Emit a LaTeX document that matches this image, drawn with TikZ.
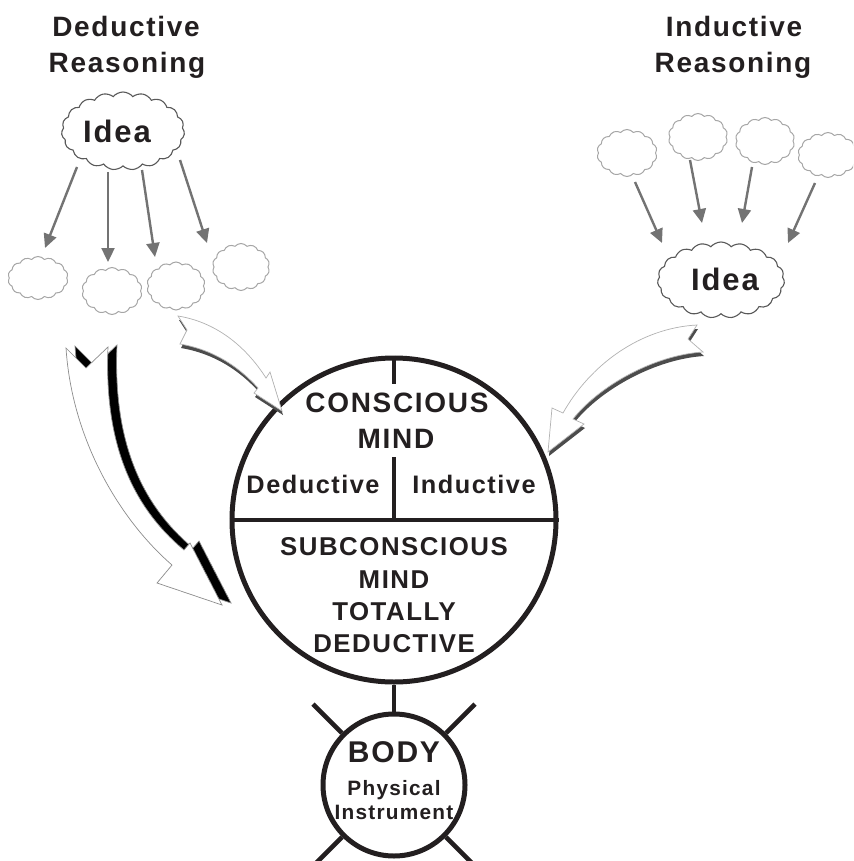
\documentclass[tikz,border=0pt]{standalone}
\usepackage{fontspec}
\setmainfont{Liberation Sans}
\newfontfamily\trk[LetterSpace=6]{Liberation Sans}
\usetikzlibrary{shapes.symbols,arrows.meta}
\definecolor{ink}{HTML}{231F20}
\begin{document}
\begin{tikzpicture}[x=1pt,y=-1pt,
  lbl/.style={anchor=base, inner sep=0pt, text=ink, font=\trk\bfseries},
  bigcloud/.style={cloud, cloud puffs=19, cloud puff arc=100, cloud ignores aspect,
     draw=black!65, line width=1.1pt, inner sep=0pt, fill=white},
  smallcloud/.style={cloud, cloud puffs=14, cloud puff arc=100, cloud ignores aspect,
     draw=black!35, line width=1pt, inner sep=0pt},
  garrow/.style={draw=black!55, line width=2.4pt, -{Triangle[length=14pt,width=13pt]}},
  thick line/.style={draw=ink, line width=4.6pt},
  blockshadow/.style={fill=black!70},
  blockbody/.style={fill=white, draw=black!30, line width=0.7pt}]
\useasboundingbox (0,0) rectangle (853,861);
\clip (0,0) rectangle (853,861);

% titles
\node[lbl, font=\trk\bfseries\fontsize{28}{32}\selectfont] (tdl1) at (126,37) {Deductive};
\node[lbl, font=\trk\bfseries\fontsize{28}{32}\selectfont] (tdl2) at (127,73) {Reasoning};
\node[lbl, font=\trk\bfseries\fontsize{28}{32}\selectfont] (tdr1) at (734,37) {Inductive};
\node[lbl, font=\trk\bfseries\fontsize{28}{32}\selectfont] (tdr2) at (733,73) {Reasoning};

% clouds left
\node[bigcloud, minimum width=123pt, minimum height=78pt] (iL) at (123,131) {};
\node[smallcloud, minimum width=60pt, minimum height=43pt] (c1) at (38,278) {};
\node[smallcloud, minimum width=60pt, minimum height=47pt] (c2) at (112,291) {};
\node[smallcloud, minimum width=58pt, minimum height=48pt] (c3) at (176,286) {};
\node[smallcloud, minimum width=57pt, minimum height=47pt] (c4) at (241,267) {};
\node[lbl, font=\trk\bfseries\fontsize{31}{34}\selectfont] (tiL) at (117,143) {Idea};

% clouds right
\node[smallcloud, minimum width=60pt, minimum height=47pt] (r1) at (627,153) {};
\node[smallcloud, minimum width=59pt, minimum height=47pt] (r2) at (698,137) {};
\node[smallcloud, minimum width=59pt, minimum height=47pt] (r3) at (765,141) {};
\node[smallcloud, minimum width=60pt, minimum height=45pt] (r4) at (828,155) {};
\node[bigcloud, minimum width=127pt, minimum height=76pt] (iR) at (721,280) {};
\node[lbl, font=\trk\bfseries\fontsize{31}{34}\selectfont] (tiR) at (725,290) {Idea};

% gray arrows
\draw[garrow] ([shift={(-46,36)}]iL.center) -- ([shift={(7,-30)}]c1.center);
\draw[garrow] ([shift={(-15,41)}]iL.center) -- ([shift={(-4,-29)}]c2.center);
\draw[garrow] ([shift={(19,39)}]iL.center) -- ([shift={(-21,-29)}]c3.center);
\draw[garrow] ([shift={(57,29)}]iL.center) -- ([shift={(-34,-24)}]c4.center);
\draw[garrow] ([shift={(8,29)}]r1.center) -- ([shift={(-59,-37)}]iR.center);
\draw[garrow] ([shift={(-8,23)}]r2.center) -- ([shift={(-19,-57)}]iR.center);
\draw[garrow] ([shift={(-13,26)}]r3.center) -- ([shift={(21,-57)}]iR.center);
\draw[garrow] ([shift={(-13,28)}]r4.center) -- ([shift={(67,-37)}]iR.center);

% main circle
\node[circle, draw=ink, line width=5pt, minimum size=324pt, inner sep=0pt] (mind) at (394,520) {};
\draw[thick line] (mind.west) -- (mind.east);
\draw[thick line] (mind.north) -- ++(0,28);
\draw[thick line] (mind.center) -- ++(0,-63);

\node[lbl, font=\trk\bfseries\fontsize{28}{30}\selectfont] (tc1) at (397,412) {CONSCIOUS};
\node[lbl, font=\trk\bfseries\fontsize{28}{30}\selectfont] (tc2) at (396,448) {MIND};
\node[lbl, font=\trk\bfseries\fontsize{25.3}{28}\selectfont] (tcd) at (313,493) {Deductive};
\node[lbl, font=\trk\bfseries\fontsize{25.3}{28}\selectfont] (tci) at (474,493) {Inductive};
\node[lbl, font=\trk\bfseries\fontsize{25.8}{28}\selectfont] (ts1) at (394,555) {SUBCONSCIOUS};
\node[lbl, font=\trk\bfseries\fontsize{25.8}{28}\selectfont] (ts2) at (394,588) {MIND};
\node[lbl, font=\trk\bfseries\fontsize{25.8}{28}\selectfont] (ts3) at (394,620) {TOTALLY};
\node[lbl, font=\trk\bfseries\fontsize{25.8}{28}\selectfont] (ts4) at (394,652) {DEDUCTIVE};

% body circle
\node[circle, draw=ink, line width=5pt, minimum size=142pt, inner sep=0pt] (body) at (394,785) {};
\draw[thick line] (mind.south) -- (body.north);
\draw[thick line] (body.135) -- ++(-29,-29);
\draw[thick line] (body.45) -- ++(29,-29);
\draw[thick line] (body.225) -- ++(-32,32);
\draw[thick line] (body.-45) -- ++(32,32);
\node[lbl, font=\trk\bfseries\fontsize{30}{32}\selectfont] (tb1) at (394,762) {BODY};
\node[lbl, font=\trk\bfseries\fontsize{20.8}{22}\selectfont] (tb2) at (394,795) {Physical};
\node[lbl, font=\trk\bfseries\fontsize{20.8}{22}\selectfont] (tb3) at (394,819) {Instrument};

% block arrow A (upper left, into conscious mind)
\begin{scope}[shift={(1,4)}]
\fill[blockshadow] (178,316) -- (187,330) -- (180,344) .. controls (215,350) and (240,368) .. (258,388) -- (254,393) -- (282,411) -- (270,372) -- (266,378) .. controls (245,345) and (215,322) .. (178,316) -- cycle;
\end{scope}
\path[blockbody] (178,316) -- (187,330) -- (180,344) .. controls (215,350) and (240,368) .. (258,388) -- (254,393) -- (282,411) -- (270,372) -- (266,378) .. controls (245,345) and (215,322) .. (178,316) -- cycle;

% block arrow B (right)
\begin{scope}[shift={(1,4)}]
\fill[blockshadow] (697,325) -- (688,339) -- (703,352) .. controls (655,355) and (600,385) .. (573,419) -- (584,424) -- (548,452) -- (552,408) -- (563,413) .. controls (590,365) and (640,328) .. (697,325) -- cycle;
\end{scope}
\path[blockbody] (697,325) -- (688,339) -- (703,352) .. controls (655,355) and (600,385) .. (573,419) -- (584,424) -- (548,452) -- (552,408) -- (563,413) .. controls (590,365) and (640,328) .. (697,325) -- cycle;

% block arrow C (big, down to subconscious)
\begin{scope}[shift={(9,-2)}]
\path[fill=black, draw=black!45, line width=0.7pt] (66,348) -- (86,368) -- (108,347) .. controls (104,440) and (130,505) .. (184,550) -- (190,543) -- (222,605) -- (157,583) -- (172,565) .. controls (120,520) and (72,440) .. (66,348) -- cycle;
\end{scope}
\path[fill=white, draw=black!45, line width=0.7pt] (66,348) -- (86,368) -- (108,347) .. controls (104,440) and (130,505) .. (184,550) -- (190,543) -- (222,605) -- (157,583) -- (172,565) .. controls (120,520) and (72,440) .. (66,348) -- cycle;
\end{tikzpicture}
\end{document}
